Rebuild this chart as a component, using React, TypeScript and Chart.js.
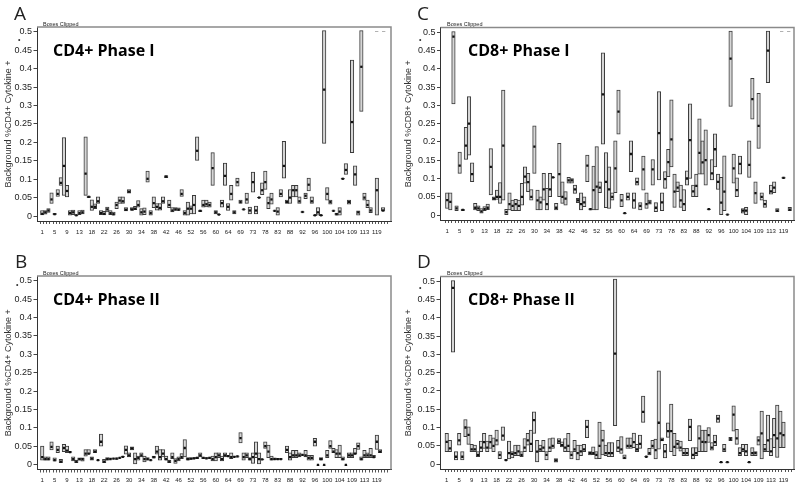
import React, { useEffect, useRef } from 'react';
import { Chart, registerables } from 'chart.js';

Chart.register(...registerables);

// Category (subject) IDs; every 4th one is labelled on the x axis
const subjectIds = [
  '1','2','3','4','5','6','7','8','9','10','11','12','13','14','15','17','18','19','20','21',
  '22','23','24','25','26','27','28','29','30','31','32','33','34','35','36','37','38','39','40','41',
  '42','43','44','45','46','47','49','51','52','53','54','55','56','57','58','59','60','61','62','63',
  '64','65','67','68','69','70','71','72','73','74','76','77','78','79','81','82','83','84','86','87',
  '88','89','90','91','92','93','94','95','96','97','98','99','100','101','102','103','104','105','107','108',
  '109','110','111','112','113','114','116','118','119','120','121','122',
];

const yTickValues = [0, 0.05, 0.1, 0.15, 0.2, 0.25, 0.3, 0.35, 0.4, 0.45, 0.5];

// Panel A: CD4+ Phase I
const aLow = [0.003,0.005,0.01,0.034,0.004,0.053,0.083,0.056,0.052,0.002, 0.004,0.001,0.004,0.006,0.056,0.05,0.015,0.02,0.034,0.004, 0.003,0.011,0.004,0.002,0.02,0.034,0.034,0.014,0.062,0.015, 0.017,0.024,0.002,0.004,0.092,0.002,0.023,0.016,0.016,0.034, 0.104,0.023,0.011,0.015,0.015,0.053,0.002,0.002,0.006,0.006, 0.151,0.012,0.024,0.025,0.024,0.083,0.006,0.003,0.024,0.083, 0.015,0.043,0.006,0.081,0.034,0.017,0.034,0.006,0.065,0.006, 0.049,0.058,0.072,0.02,0.032,0.013,0.002,0.052,0.103,0.034, 0.034,0.052,0.052,0.034,0.01,0.047,0.068,0.034,0.001,0.002, 0.001,0.197,0.043,0.032,0.013,0.002,0.002,0.1,0.113,0.032, 0.172,0.083,0.002,0.284,0.043,0.023,0.009,null,0.002,null, 0.013,null];
const aMed = [0.006,0.01,0.015,0.045,0.005,0.06,0.09,0.136,0.068,0.008, 0.01,0.002,0.008,0.01,0.115,0.052,0.025,0.025,0.04,0.008, 0.006,0.018,0.008,0.005,0.03,0.042,0.04,0.017,0.066,0.018, 0.02,0.03,0.01,0.012,0.101,0.008,0.035,0.025,0.022,0.04, 0.107,0.03,0.015,0.018,0.017,0.06,0.008,0.02,0.02,0.03, 0.177,0.014,0.03,0.032,0.03,0.13,0.01,0.004,0.035,0.109, 0.025,0.06,0.01,0.092,0.038,0.018,0.045,0.015,0.092,0.015, 0.05,0.07,0.092,0.035,0.045,0.014,0.012,0.06,0.136,0.038, 0.05,0.07,0.07,0.04,0.011,0.055,0.085,0.04,0.002,0.01, 0.002,0.343,0.06,0.038,0.014,0.005,0.012,0.101,0.125,0.038, 0.255,0.113,0.01,0.405,0.05,0.03,0.015,null,0.07,null, 0.015,null];
const aHigh = [0.015,0.015,0.02,0.063,0.007,0.072,0.104,0.213,0.083,0.015, 0.016,0.003,0.015,0.016,0.215,0.054,0.044,0.033,0.052,0.015, 0.013,0.024,0.015,0.011,0.038,0.052,0.052,0.023,0.072,0.023, 0.026,0.042,0.02,0.022,0.122,0.015,0.052,0.034,0.034,0.052, 0.11,0.043,0.023,0.023,0.022,0.072,0.015,0.038,0.028,0.056, 0.215,0.016,0.043,0.043,0.038,0.172,0.015,0.005,0.043,0.144, 0.034,0.083,0.015,0.103,0.043,0.019,0.062,0.024,0.119,0.027, 0.051,0.09,0.122,0.052,0.062,0.015,0.023,0.072,0.203,0.043, 0.072,0.083,0.083,0.052,0.012,0.062,0.103,0.052,0.003,0.023, 0.003,0.503,0.077,0.043,0.015,0.008,0.023,0.102,0.142,0.043, 0.423,0.136,0.014,0.503,0.062,0.043,0.023,null,0.103,null, 0.023,null];

// Panel B: CD4+ Phase II
const bLow = [0.012,0.012,0.012,0.04,0.009,0.032,0.005,0.035,0.032,0.033, 0.01,0.005,0.012,0.009,0.023,0.028,0.012,0.032,0.011,0.05, 0.005,0.012,0.014,0.015,0.014,0.017,0.02,0.028,0.021,0.04, 0,0.012,0.021,0.007,0.012,0.011,0.017,0.028,0.012,0.021, 0.012,0.005,0.016,0.003,0.01,0.016,0.021,0.012,0.014,0.015, 0.016,0.021,0.016,0.015,0.016,0.01,0.01,0.019,0.01,0.021, 0.022,0.016,0.02,0.02,0.059,0.012,0.019,0.012,0.003,0.019, 0,0.013,0.044,0.019,0.012,0.013,0.013,0.014,null,0.032, 0.012,0.019,0.019,0.021,0.025,0.021,0.012,0.012,0.05,-0.002, 0.012,-0.002,0.019,0.044,0.032,0.019,0.019,0.012,-0.002,0.019, 0.019,0.028,0.041,0.012,0.019,0.019,0.019,0.019,0.041,0.032, null,null];
const bMed = [0.02,0.015,0.015,0.048,0.012,0.04,0.008,0.045,0.038,0.034, 0.015,0.008,0.015,0.015,0.03,0.03,0.016,0.035,0.012,0.062, 0.008,0.015,0.015,0.016,0.016,0.018,0.021,0.04,0.025,0.044, 0.015,0.018,0.025,0.015,0.015,0.012,0.02,0.035,0.02,0.03, 0.015,0.008,0.02,0.01,0.015,0.02,0.045,0.015,0.016,0.017, 0.018,0.025,0.018,0.017,0.018,0.015,0.02,0.025,0.015,0.025, 0.023,0.02,0.021,0.022,0.072,0.02,0.025,0.015,0.02,0.03, 0.015,0.014,0.05,0.035,0.015,0.015,0.015,0.015,null,0.04, 0.02,0.025,0.025,0.025,0.026,0.025,0.018,0.018,0.062,-0.001, 0.015,-0.001,0.025,0.05,0.035,0.03,0.03,0.015,-0.001,0.025, 0.025,0.03,0.05,0.015,0.025,0.025,0.025,0.02,0.062,0.035, null,null];
const bHigh = [0.05,0.021,0.021,0.062,0.018,0.05,0.014,0.055,0.05,0.035, 0.021,0.012,0.018,0.018,0.041,0.041,0.021,0.041,0.013,0.083, 0.014,0.019,0.018,0.017,0.018,0.019,0.022,0.051,0.032,0.048, 0.032,0.023,0.032,0.023,0.019,0.013,0.023,0.05,0.041,0.041, 0.023,0.012,0.032,0.016,0.021,0.03,0.068,0.019,0.018,0.019, 0.02,0.032,0.02,0.019,0.02,0.023,0.032,0.032,0.023,0.032, 0.024,0.032,0.022,0.024,0.087,0.032,0.032,0.019,0.032,0.062, 0.032,0.015,0.062,0.053,0.023,0.018,0.017,0.016,null,0.05, 0.032,0.039,0.039,0.032,0.027,0.039,0.025,0.025,0.071,0, 0.019,0,0.039,0.065,0.044,0.041,0.053,0.021,0,0.032, 0.032,0.044,0.059,0.021,0.039,0.032,0.044,0.025,0.08,0.041, null,null];

// Panel C: CD8+ Phase I
const cLow = [0.018,0.014,0.304,0.012,0.114,0.012,0.152,0.164,0.091,0.014, 0.012,0.005,0.012,0.015,0.055,0.041,0.043,0.032,0.041,0, 0.014,0.012,0.012,0.012,0.027,0.087,0.064,0.041,0.114,0.014, 0.014,0.041,0.014,0.05,0.102,0.014,0.05,0.032,0.027,0.087, 0.087,0.059,0.034,0.014,0.023,0.091,0.014,0.014,0.014,0.061, 0.194,0.02,0.018,0.041,0.061,0.221,0.023,0.004,0.041,0.119, 0.018,0.082,0.014,0.068,0.018,0.03,0.082,0.009,0.096,0.012, 0.073,0.105,0.132,0.021,0.064,0.021,0.012,0.082,0.1,0.05, 0.05,0.112,0.112,0.082,0.015,0.096,0.132,0.07,0,0.012, 0,0.297,0.087,0.05,0.112,0.005,0,0.103,0.262,0.032, 0.182,0.041,0.021,0.362,0.057,0.061,0.009,null,0.1,null, 0.012,null];
const cMed = [0.041,0.036,0.488,0.018,0.135,0.014,0.19,0.25,0.112,0.02, 0.018,0.01,0.016,0.02,0.132,0.045,0.05,0.05,0.19,0.008, 0.03,0.025,0.03,0.025,0.05,0.105,0.09,0.05,0.187,0.04, 0.035,0.07,0.03,0.07,0.103,0.02,0.112,0.05,0.045,0.095, 0.095,0.07,0.04,0.03,0.035,0.135,0.016,0.068,0.078,0.075, 0.33,0.091,0.07,0.05,0.128,0.283,0.04,0.005,0.05,0.167, 0.04,0.09,0.025,0.125,0.03,0.035,0.125,0.02,0.224,0.035, 0.098,0.145,0.207,0.064,0.075,0.04,0.03,0.1,0.205,0.065, 0.08,0.17,0.144,0.15,0.016,0.114,0.18,0.091,0.034,0.064, 0.001,0.428,0.128,0.068,0.14,0.012,0.012,0.137,0.317,0.06, 0.244,0.05,0.03,0.45,0.065,0.075,0.012,null,0.102,null, 0.015,null];
const cHigh = [0.061,0.061,0.502,0.025,0.172,0.016,0.24,0.324,0.143,0.032, 0.025,0.018,0.023,0.03,0.182,0.05,0.068,0.089,0.342,0.016, 0.061,0.041,0.043,0.041,0.087,0.132,0.114,0.07,0.244,0.068, 0.05,0.114,0.073,0.114,0.104,0.032,0.196,0.091,0.064,0.103, 0.1,0.082,0.046,0.061,0.05,0.164,0.018,0.134,0.187,0.091, 0.444,0.171,0.132,0.061,0.203,0.342,0.057,0.006,0.061,0.203, 0.061,0.102,0.034,0.161,0.061,0.041,0.152,0.034,0.338,0.061, 0.119,0.18,0.315,0.112,0.091,0.082,0.07,0.121,0.304,0.082, 0.112,0.263,0.203,0.233,0.017,0.152,0.222,0.112,0.103,0.162, 0.002,0.503,0.167,0.102,0.161,0.018,0.021,0.203,0.374,0.091, 0.333,0.061,0.041,0.503,0.082,0.091,0.018,null,0.104,null, 0.021,null];

// Panel D: CD8+ Phase II
const dLow = [0.034,0.034,0.306,0.011,0.052,0.011,0.075,0.054,0.034,0.034, 0.02,0.034,0.043,0.034,0.043,0.034,0.052,0.015,0.065,0.01, 0.014,0.017,0.023,0.023,0.02,0.034,0.052,0.034,0.084,0.006, 0.034,0.034,0.011,0.034,0.043,0.005,0.056,0.047,0.034,0.034, 0.014,0.034,0.011,0.023,0.034,0.072,0.025,0.026,0.014,0.015, 0.025,0.023,0.02,0.02,0.105,0.034,0.029,0.014,0.043,0.043, 0.045,0.034,0.043,0.114,0.019,0.025,0.043,0.014,0.041,0.063, 0.017,0.073,0.034,0.023,0.043,0.035,0.023,0.023,0.064,0.014, 0.023,0.034,0.034,0.034,0.059,0.038,0.05,0.114,0.004,0.034, 0.004,0.064,0.09,0.054,0.023,0.034,0.023,0.004,0.023,0.023, 0.052,0.014,0.034,0.034,0.023,0.045,0.018,0.045,0.045,null, null,null];
const dMed = [0.061,0.043,0.482,0.02,0.065,0.02,0.1,0.08,0.04,0.04, 0.025,0.045,0.06,0.045,0.06,0.05,0.065,0.025,0.078,0.011, 0.03,0.028,0.03,0.035,0.025,0.045,0.065,0.055,0.12,0.034, 0.04,0.045,0.025,0.045,0.05,0.01,0.062,0.052,0.045,0.05, 0.025,0.04,0.03,0.035,0.04,0.102,0.03,0.03,0.025,0.05, 0.065,0.03,0.03,0.03,0.302,0.045,0.04,0.017,0.05,0.05, 0.06,0.04,0.055,0.143,0.02,0.03,0.05,0.038,0.113,0.066, 0.035,0.09,0.09,0.047,0.055,0.045,0.03,0.03,0.102,0.025, 0.03,0.07,0.061,0.06,0.079,0.045,0.06,0.124,0.005,0.04, 0.005,0.068,0.135,0.07,0.03,0.04,0.035,0.005,0.03,0.03, 0.065,0.084,0.04,0.065,0.035,0.079,0.07,0.084,0.079,null, null,null];
const dHigh = [0.084,0.065,0.502,0.034,0.084,0.034,0.122,0.102,0.054,0.052, 0.034,0.063,0.084,0.063,0.079,0.072,0.093,0.034,0.102,0.012, 0.063,0.034,0.052,0.052,0.034,0.07,0.084,0.093,0.143,0.065, 0.052,0.065,0.034,0.07,0.072,0.015,0.07,0.061,0.07,0.084, 0.034,0.065,0.052,0.052,0.054,0.12,0.034,0.047,0.034,0.115, 0.093,0.052,0.059,0.059,0.506,0.065,0.075,0.025,0.072,0.072, 0.085,0.054,0.079,0.186,0.021,0.043,0.065,0.068,0.255,0.072, 0.054,0.113,0.164,0.084,0.065,0.063,0.043,0.043,0.123,0.045, 0.045,0.105,0.093,0.093,0.1,0.059,0.079,0.134,0.006,0.054, 0.006,0.073,0.159,0.095,0.045,0.054,0.054,0.006,0.045,0.034, 0.075,0.145,0.054,0.134,0.07,0.125,0.161,0.145,0.115,null, null,null];

type Panel = {
  letter: string; title: string; axisTitle: string;
  low: (number | null)[]; med: (number | null)[]; high: (number | null)[];
  clippedMarks: boolean;
  left: number; top: number;
  padTop: number; padRight: number; yW: number; xH: number;
  xMin: number; xMax: number;
  letterPos: [number, number]; clipPos: [number, number]; titlePos: [number, number];
  dotPos: [number, number]; dashPos: [number, number];
};

const panels: Panel[] = [
  { letter: 'A', title: 'CD4+ Phase I', axisTitle: 'Background %CD4+ Cytokine +',
    low: aLow, med: aMed, high: aHigh, clippedMarks: true,
    left: 0, top: 0, padTop: 27, padRight: 9, yW: 37, xH: 23, xMin: -1.18, xMax: 112.06,
    letterPos: [14, 20], clipPos: [43, 25.5], titlePos: [53, 55.5], dotPos: [18, 42], dashPos: [375, 33] },
  { letter: 'B', title: 'CD4+ Phase II', axisTitle: 'Background %CD4+ Cytokine +',
    low: bLow, med: bMed, high: bHigh, clippedMarks: false,
    left: 0, top: 244, padTop: 32, padRight: 9, yW: 37, xH: 18.5, xMin: -1.18, xMax: 112.06,
    letterPos: [15, 24], clipPos: [43, 30.5], titlePos: [53, 60.5], dotPos: [16, 43], dashPos: [0, 0] },
  { letter: 'C', title: 'CD8+ Phase I', axisTitle: 'Background %CD8+ Cytokine +',
    low: cLow, med: cMed, high: cHigh, clippedMarks: true,
    left: 400, top: 0, padTop: 27.5, padRight: 6, yW: 40.5, xH: 24, xMin: -1.65, xMax: 110.86,
    letterPos: [17, 20], clipPos: [47, 25.5], titlePos: [68, 55.5], dotPos: [19, 42], dashPos: [380, 33] },
  { letter: 'D', title: 'CD8+ Phase II', axisTitle: 'Background %CD8+ Cytokine +',
    low: dLow, med: dMed, high: dHigh, clippedMarks: false,
    left: 400, top: 244, padTop: 32.5, padRight: 6, yW: 40, xH: 19, xMin: -1.65, xMax: 110.86,
    letterPos: [17, 24], clipPos: [47, 31], titlePos: [68, 61], dotPos: [19, 46], dashPos: [0, 0] },
];

const decorPlugin = {
  id: 'panelDecor',
  afterDraw(chart: any, _args: any, opts: any) {
    const p: Panel = opts.panel;
    if (!p) return;
    const { ctx, chartArea: a } = chart;
    ctx.save();
    // plot frame (top and right)
    ctx.strokeStyle = '#8a8a8a';
    ctx.lineWidth = 1.5;
    ctx.beginPath();
    ctx.moveTo(a.left, a.top);
    ctx.lineTo(a.right, a.top);
    ctx.lineTo(a.right, a.bottom);
    ctx.stroke();
    ctx.textBaseline = 'alphabetic';
    ctx.textAlign = 'left';
    ctx.fillStyle = '#222';
    ctx.font = '19px "Open Sans", "Liberation Sans", sans-serif';
    ctx.fillText(p.letter, p.letterPos[0], p.letterPos[1]);
    ctx.font = '5.5px "Liberation Sans", Arial, sans-serif';
    ctx.fillText('Boxes Clipped', p.clipPos[0], p.clipPos[1]);
    ctx.fillStyle = '#000';
    ctx.font = 'bold 16px "Open Sans", "Liberation Sans", sans-serif';
    ctx.fillText(p.title, p.titlePos[0], p.titlePos[1]);
    ctx.fillStyle = '#333';
    ctx.font = '7px "Liberation Sans", Arial, sans-serif';
    ctx.fillText('•', p.dotPos[0], p.dotPos[1]);
    if (p.clippedMarks) {
      ctx.font = '6px "Liberation Sans", Arial, sans-serif';
      ctx.fillText('–', p.dashPos[0], p.dashPos[1]);
      ctx.fillText('–', p.dashPos[0] + 7, p.dashPos[1]);
    }
    ctx.restore();
  },
};

function fmtY(v: number) {
  return String(+Number(v).toFixed(2));
}

function BoxPanel({ p }: { p: Panel }) {
  const ref = useRef<HTMLCanvasElement | null>(null);
  useEffect(() => {
    if (!ref.current) return;
    const boxes: any[] = [];
    const medians: any[] = [];
    subjectIds.forEach((_, i) => {
      const lo = p.low[i];
      const hi = p.high[i];
      const md = p.med[i];
      if (lo == null || hi == null) return;
      boxes.push({ x: i, y: [lo, hi] });
      if (md != null) medians.push({ x: i, y: md });
    });
    const chart = new Chart(ref.current, {
      type: 'bar',
      data: {
        datasets: [
          {
            type: 'scatter',
            data: medians,
            pointStyle: 'rect',
            pointRadius: 1.6,
            pointHoverRadius: 1.6,
            backgroundColor: '#111',
            borderColor: '#111',
            borderWidth: 0,
            order: 0,
          } as any,
          {
            type: 'bar',
            data: boxes,
            backgroundColor: '#d6d6d6',
            borderColor: '#3a3a3a',
            borderWidth: 1,
            borderSkipped: false,
            barThickness: 3.5,
            order: 1,
          } as any,
        ],
      },
      options: {
        responsive: false,
        animation: false,
        events: [],
        layout: { padding: { top: p.padTop, right: p.padRight, left: 0, bottom: 0 } },
        plugins: {
          legend: { display: false },
          tooltip: { enabled: false },
          panelDecor: { panel: p },
        } as any,
        scales: {
          x: {
            type: 'linear',
            min: p.xMin,
            max: p.xMax,
            afterBuildTicks: (s: any) => {
              s.ticks = subjectIds.map((_, i) => ({ value: i }));
            },
            afterFit: (s: any) => {
              s.height = p.xH;
            },
            ticks: {
              autoSkip: false,
              maxRotation: 0,
              minRotation: 0,
              padding: 4.5,
              color: '#222',
              font: { family: '"Liberation Sans", Arial, sans-serif', size: 6 },
              callback: (v: any) => (Number(v) % 4 === 0 ? subjectIds[Number(v)] : ''),
            },
            grid: { display: true, drawOnChartArea: false, drawTicks: true, tickLength: 3, color: '#555', lineWidth: 1 },
            border: { display: true, color: '#333', width: 1 },
          },
          y: {
            type: 'linear',
            min: -0.0135,
            max: 0.513,
            afterBuildTicks: (s: any) => {
              s.ticks = yTickValues.map((v) => ({ value: v }));
            },
            afterFit: (s: any) => {
              s.width = p.yW;
            },
            ticks: {
              padding: 1.5,
              color: '#222',
              font: { family: '"Liberation Sans", Arial, sans-serif', size: 9 },
              callback: (v: any) => fmtY(v),
            },
            grid: { display: true, drawOnChartArea: false, drawTicks: true, tickLength: 3.5, color: '#444', lineWidth: 1 },
            border: { display: true, color: '#333', width: 1 },
            title: {
              display: true,
              text: p.axisTitle,
              color: '#333',
              font: { family: '"Liberation Sans", Arial, sans-serif', size: 9 },
              padding: { top: 3, bottom: 0 },
            },
          },
        },
      },
      plugins: [decorPlugin as any],
    });
    return () => chart.destroy();
  }, [p]);
  return (
    <div style={{ position: 'absolute', left: p.left, top: p.top, width: 400, height: 244 }}>
      <canvas ref={ref} width={400} height={244} style={{ display: 'block', width: 400, height: 244 }} />
    </div>
  );
}

export default function App() {
  return (
    <div style={{ position: 'absolute', left: 0, top: 0, width: 800, height: 488, background: '#fff', overflow: 'hidden' }}>
      {panels.map((p) => (
        <BoxPanel key={p.letter} p={p} />
      ))}
    </div>
  );
}
